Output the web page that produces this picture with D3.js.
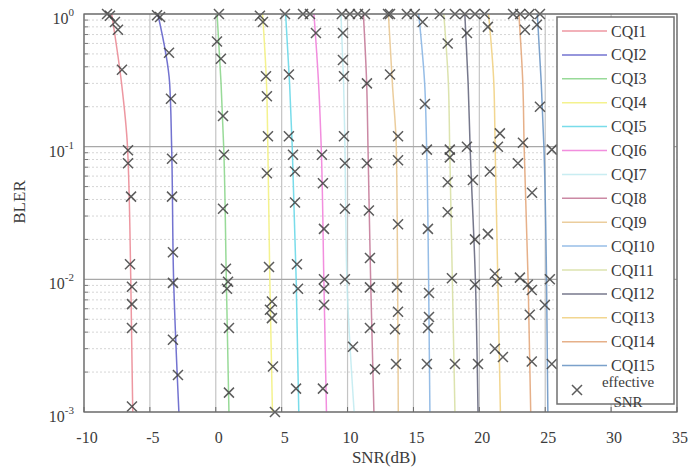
<!DOCTYPE html>
<html><head><meta charset="utf-8">
<script src="https://cdn.jsdelivr.net/npm/d3@7"></script>
<style>
body{margin:0;background:#fff}
svg{display:block}
text{font-family:"Liberation Serif","Times New Roman",serif;fill:#3c3c3c}
</style>
</head><body>
<svg id="chart" width="692" height="473"></svg>
<script>
// ---------- data ----------
const seriesNames = ["CQI1","CQI2","CQI3","CQI4","CQI5","CQI6","CQI7","CQI8","CQI9","CQI10","CQI11","CQI12","CQI13","CQI14","CQI15"];
const seriesColors = ["#ea8590","#5a5ac8","#86d486","#f2f07a","#62d6e6","#f07ad8","#bfeaf0","#c27494","#e8c48c","#84b2e2","#d6dea0","#5e6078","#f0cf7c","#e2a274","#6490c2"];
const curveBler = [1, 0.3, 0.1, 0.01, 0.001];
const curveCQI1  = [-7.9, -7.15, -6.7, -6.45, -6.3];
const curveCQI2  = [-4.4, -3.5, -3.35, -3.2, -2.8];
const curveCQI3  = [0.1, 0.4, 0.6, 0.8, 1.0];
const curveCQI4  = [3.55, 3.85, 3.95, 4.1, 4.3];
const curveCQI5  = [5.3, 5.6, 5.8, 6.1, 6.3];
const curveCQI6  = [7.45, 7.8, 8.0, 8.2, 8.4];
const curveCQI7  = [9.5, 9.7, 9.8, 9.95, 10.5];
const curveCQI8  = [11.2, 11.45, 11.55, 11.75, 12.0];
const curveCQI9  = [13.1, 13.4, 13.7, 13.8, 13.85];
const curveCQI10 = [15.4, 15.85, 16.0, 16.15, 16.25];
const curveCQI11 = [17.3, 17.65, 17.75, 17.95, 18.15];
const curveCQI12 = [18.9, 19.15, 19.3, 19.7, 19.9];
const curveCQI13 = [20.7, 21.1, 21.2, 21.4, 21.6];
const curveCQI14 = [23.0, 23.3, 23.4, 23.7, 23.9];
const curveCQI15 = [24.4, 24.7, 24.9, 25.1, 25.2];
const curves = [curveCQI1,curveCQI2,curveCQI3,curveCQI4,curveCQI5,curveCQI6,curveCQI7,curveCQI8,curveCQI9,curveCQI10,curveCQI11,curveCQI12,curveCQI13,curveCQI14,curveCQI15];

// effective SNR points [SNR dB, BLER]
const effCQI1  = [[-8.25,1],[-8.03,0.97],[-7.65,0.87],[-7.42,0.76],[-7.12,0.38],[-6.66,0.094],[-6.66,0.075],[-6.43,0.042],[-6.51,0.013],[-6.36,0.0088],[-6.36,0.0065],[-6.36,0.0043],[-6.36,0.0011]];
const effCQI2  = [[-4.46,0.98],[-4.23,0.95],[-3.55,0.51],[-3.40,0.23],[-3.32,0.081],[-3.32,0.042],[-3.25,0.016],[-3.25,0.0094],[-3.25,0.0035],[-2.87,0.0019]];
const effCQI3  = [[0.24,1],[0.09,0.62],[0.39,0.46],[0.55,0.17],[0.62,0.087],[0.55,0.034],[0.77,0.012],[0.93,0.0096],[0.85,0.0085],[1.0,0.0043],[1.0,0.0014]];
const effCQI4  = [[3.35,0.97],[3.58,0.87],[3.81,0.34],[3.88,0.24],[3.96,0.12],[3.88,0.063],[4.04,0.0124],[4.26,0.0068],[4.11,0.0059],[4.26,0.0051],[4.34,0.0022],[4.49,0.001]];
const effCQI5  = [[5.25,1],[5.55,0.35],[5.55,0.12],[5.86,0.087],[6.01,0.065],[6.01,0.038],[6.16,0.013],[6.24,0.0085],[6.09,0.0015]];
const effCQI6  = [[6.62,1],[7.15,1],[7.60,0.72],[8.06,0.087],[8.13,0.053],[8.21,0.024],[8.21,0.01],[8.21,0.0085],[8.21,0.0064],[8.13,0.0015]];
const effCQI7  = [[9.57,1],[9.65,0.72],[9.65,0.45],[9.73,0.34],[9.73,0.12],[9.80,0.075],[9.80,0.034],[9.80,0.010],[10.41,0.0031]];
const effCQI8  = [[10.18,1],[10.79,1],[11.32,1],[11.47,0.30],[11.47,0.075],[11.62,0.033],[11.70,0.0145],[11.70,0.0087],[11.70,0.0043],[12.08,0.0021]];
const effCQI9  = [[13.07,1],[13.22,1],[13.22,0.35],[13.83,0.12],[13.83,0.079],[13.83,0.026],[13.75,0.0087],[13.83,0.0057],[13.6,0.0042],[13.68,0.0023]];
const effCQI10 = [[14.5,1],[15.1,1],[15.7,0.87],[15.87,0.21],[16.02,0.095],[16.1,0.024],[16.18,0.0079],[16.18,0.0052],[16.1,0.0043],[16.02,0.0023]];
const effCQI11 = [[17.0,1],[17.6,0.60],[17.76,0.095],[17.76,0.083],[17.6,0.054],[17.6,0.032],[17.92,0.0102],[18.15,0.0023]];
const effCQI12 = [[18.15,1],[19.06,0.72],[19.06,0.1],[19.51,0.056],[19.67,0.020],[19.67,0.0091],[19.9,0.0023]];
const effCQI13 = [[18.9,1],[19.67,1],[20.4,1],[20.65,0.80],[21.56,0.126],[21.41,0.10],[20.8,0.065],[20.65,0.022],[21.18,0.011],[21.34,0.0096],[21.18,0.003],[21.79,0.0026]];
const effCQI14 = [[22.56,1],[23.1,1],[23.46,0.76],[23.31,0.107],[22.93,0.075],[24.0,0.045],[23.08,0.0103],[23.68,0.0091],[23.98,0.0083],[23.83,0.0054],[23.98,0.0024]];
const effCQI15 = [[23.8,1],[24.37,0.83],[24.6,1],[24.6,0.20],[25.5,0.095],[25.35,0.01],[24.97,0.0064],[25.5,0.0023]];
const effective = [effCQI1,effCQI2,effCQI3,effCQI4,effCQI5,effCQI6,effCQI7,effCQI8,effCQI9,effCQI10,effCQI11,effCQI12,effCQI13,effCQI14,effCQI15];

const xTicks = [-10,-5,0,5,10,15,20,25,30,35];
const yTickExps = [0,-1,-2,-3];
const xLabel = "SNR(dB)";
const yLabel = "BLER";
const markerLabel = ["effective","SNR"];

// ---------- layout ----------
const svg = d3.select("#chart");
const L = 84, R = 677, T = 14, B = 412;
const x = d3.scaleLinear().domain([-10,35]).range([L,R]);
const y = d3.scaleLog().domain([1e-3,1]).range([B,T]);

svg.append("defs").append("clipPath").attr("id","clip")
  .append("rect").attr("x",L).attr("y",T).attr("width",R-L).attr("height",B-T);

// minor horizontal grid
const minorY = [];
yTickExps.slice(0,3).forEach(e => { for (let k=2;k<=9;k++) minorY.push(k*Math.pow(10,e-1)); });
svg.append("g").selectAll("line").data(minorY).join("line")
  .attr("x1",L).attr("x2",R).attr("y1",d=>y(d)).attr("y2",d=>y(d))
  .attr("stroke","#d6d6d6").attr("stroke-width",1).attr("stroke-dasharray","2,2");
svg.append("g").selectAll("line").data(minorY).join("line")
  .attr("x1",L).attr("x2",L+4).attr("y1",d=>y(d)).attr("y2",d=>y(d))
  .attr("stroke","#777").attr("stroke-width",1);

// major grid
svg.append("g").selectAll("line").data(xTicks).join("line")
  .attr("x1",d=>x(d)).attr("x2",d=>x(d)).attr("y1",T).attr("y2",B)
  .attr("stroke","#c4c4c4").attr("stroke-width",1.2);
svg.append("g").selectAll("line").data(yTickExps).join("line")
  .attr("x1",L).attr("x2",R).attr("y1",d=>y(Math.pow(10,d))).attr("y2",d=>y(Math.pow(10,d)))
  .attr("stroke","#a8a8a8").attr("stroke-width",1.2);

// curves
const line = d3.line().x(d=>x(d[0])).y(d=>y(d[1])).curve(d3.curveMonotoneY);
const gc = svg.append("g").attr("clip-path","url(#clip)");
curves.forEach((c,i) => {
  gc.append("path").datum(c.map((s,j)=>[s,curveBler[j]]))
    .attr("d",line).attr("fill","none").attr("stroke",seriesColors[i])
    .attr("stroke-width",1.5).attr("stroke-opacity",0.85);
});

// markers
const gm = svg.append("g");
function cross(g, cx, cy, r) {
  g.append("path").attr("d",`M${cx-r},${cy-r}L${cx+r},${cy+r}M${cx-r},${cy+r}L${cx+r},${cy-r}`)
   .attr("stroke","#404040").attr("stroke-width",1.5).attr("fill","none").attr("opacity",0.85);
}
effective.forEach(arr => arr.forEach(p => cross(gm, x(p[0]), y(p[1]), 5)));

// frame
svg.append("rect").attr("x",L).attr("y",T).attr("width",R-L).attr("height",B-T)
  .attr("fill","none").attr("stroke","#6a6a6a").attr("stroke-width",1.3);

// x ticks & labels
svg.append("g").selectAll("line").data(xTicks).join("line")
  .attr("x1",d=>x(d)).attr("x2",d=>x(d)).attr("y1",B).attr("y2",B-5)
  .attr("stroke","#6a6a6a");
svg.append("g").selectAll("text").data(xTicks).join("text")
  .attr("x",d=>x(d)+3).attr("y",443).attr("text-anchor","middle")
  .attr("font-size",16).text(d=>d);

// y labels
const gy = svg.append("g");
yTickExps.forEach(e => {
  const yy = y(Math.pow(10,e));
  const t = gy.append("text").attr("x",L-10).attr("y",yy+10).attr("text-anchor","end").attr("font-size",16);
  t.append("tspan").text("10");
  t.append("tspan").attr("dy",-8).attr("font-size",11).text(e);
});

// axis titles
svg.append("text").attr("x",384).attr("y",463).attr("text-anchor","middle").attr("font-size",17).text(xLabel);
svg.append("text").attr("transform","translate(25,202) rotate(-90)").attr("text-anchor","middle").attr("font-size",17).text(yLabel);

// legend
const lg = svg.append("g");
const LX = 557, LY = 17, LW = 117, LH = 387;
lg.append("rect").attr("x",LX).attr("y",LY).attr("width",LW).attr("height",LH)
  .attr("fill","#fff").attr("stroke","#707070").attr("stroke-width",1.5);
seriesNames.forEach((n,i) => {
  const yy = 31 + i*23.9;
  lg.append("line").attr("x1",562).attr("x2",607).attr("y1",yy).attr("y2",yy)
    .attr("stroke",seriesColors[i]).attr("stroke-width",1.5).attr("stroke-opacity",0.85);
  lg.append("text").attr("x",611).attr("y",yy+5.5).attr("font-size",16).text(n);
});
cross(lg, 577, 390, 5);
lg.append("text").attr("x",628).attr("y",387).attr("text-anchor","middle").attr("font-size",15).text(markerLabel[0]);
lg.append("text").attr("x",628).attr("y",407).attr("text-anchor","middle").attr("font-size",15).text(markerLabel[1]);
</script>
</body></html>
